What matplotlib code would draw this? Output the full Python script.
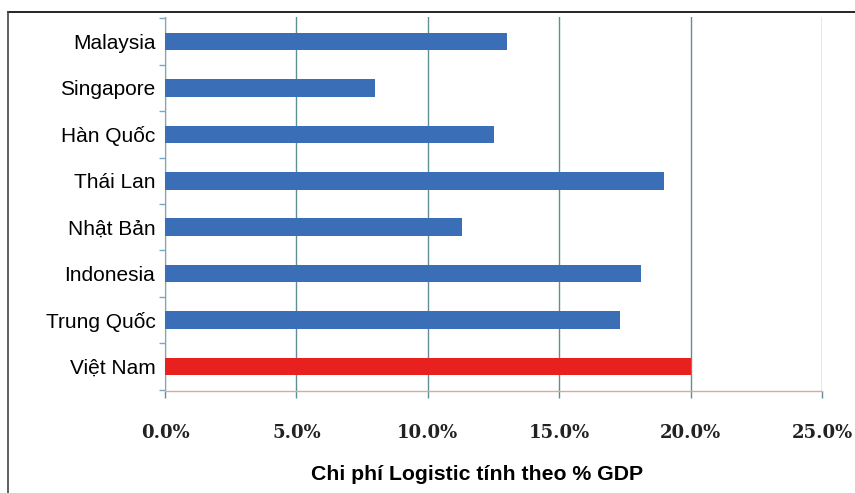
import matplotlib
matplotlib.use("Agg")
import matplotlib.pyplot as plt
from matplotlib.lines import Line2D
from matplotlib.ticker import FuncFormatter, FixedLocator

countries = ["Việt Nam", "Trung Quốc", "Indonesia", "Nhật Bản",
             "Thái Lan", "Hàn Quốc", "Singapore", "Malaysia"]
values = [20.0, 17.3, 18.1, 11.3, 19.0, 12.5, 8.0, 13.0]
bar_colors = ["#e8201e"] + ["#3a6fb8"] * 7
xticks = [0, 5, 10, 15, 20, 25]
xlabel = "Chi phí Logistic tính theo % GDP"

fig = plt.figure(figsize=(8.55, 4.93), dpi=100)
ax = fig.add_axes([165/855, 1-391/493, (822-165)/855, (391-17)/493])

y = list(range(len(countries)))
ax.barh(y, values, height=0.38, color=bar_colors, zorder=3)
ax.set_ylim(-0.53, len(countries) - 0.47)
ax.set_xlim(0, 25)
ax.set_yticks(y)
ax.set_yticklabels(countries, fontsize=15, family="Liberation Sans")
ax.yaxis.set_minor_locator(FixedLocator([i + 0.5 for i in range(-1, len(countries))]))
ax.tick_params(axis="y", which="major", length=0, pad=7)
ax.tick_params(axis="y", which="minor", length=4, color="#7aa7c7", width=1)

ax.set_xticks(xticks)
ax.xaxis.set_major_formatter(FuncFormatter(lambda v, p: f"{v:.1f}%"))
for lab in ax.get_xticklabels():
    lab.set_family("DejaVu Serif")
    lab.set_fontweight("bold")
    lab.set_fontsize(13)
    lab.set_color("#222222")
ax.tick_params(axis="x", length=5, pad=19, color="#5f8f95", width=1)
ax.grid(axis="x", color="#5f8f95", linewidth=1, zorder=1)

ax.spines["top"].set_visible(False)
ax.spines["right"].set_visible(False)
ax.spines["left"].set_color("#7aa7c7")
ax.spines["bottom"].set_color("#d9a8a0")
ax.spines["bottom"].set_linewidth(1)

fig.text(477/855, 1-474/493, xlabel, ha="center", va="center",
         fontsize=15.3, fontweight="bold", family="Liberation Sans")

# outer frame lines
fig.add_artist(Line2D([8/855, 1], [1-12/493, 1-12/493], color="black", lw=1.2,
                      transform=fig.transFigure))
fig.add_artist(Line2D([8/855, 8/855], [0, 1-12/493], color="#444444", lw=1.2,
                      transform=fig.transFigure))

fig.savefig("out.png", dpi=100)
